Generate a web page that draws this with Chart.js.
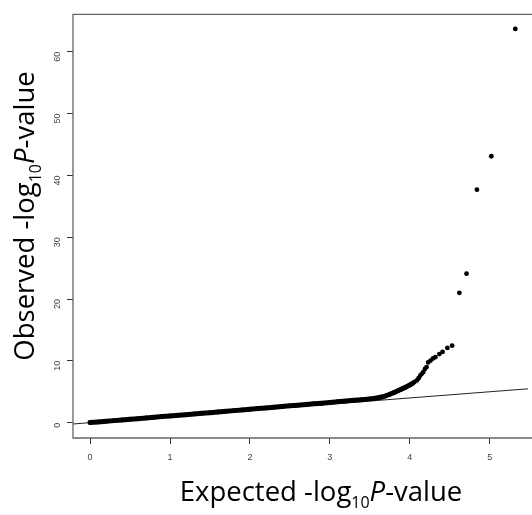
<!DOCTYPE html>
<html>
<head>
<meta charset="utf-8">
<script src="https://cdn.jsdelivr.net/npm/chart.js@4"></script>
<style>
  html, body { margin: 0; padding: 0; background: #fff; }
  #wrap { width: 532px; height: 515px; }
</style>
</head>
<body>
<div id="wrap"><canvas id="qq-chart" width="532" height="515"></canvas></div>
<script>
// bulk of the QQ points (expected vs observed)
var bulkExpected = [0, 0.1, 0.2, 0.3, 0.4, 0.5, 0.6, 0.7, 0.8, 0.9, 1.0, 1.1, 1.2, 1.3, 1.4, 1.5, 1.6, 1.7,
  1.8, 1.9, 2.0, 2.1, 2.2, 2.3, 2.4, 2.5, 2.6, 2.7, 2.8, 2.9, 3.0, 3.1, 3.2, 3.3, 3.4, 3.5,
  3.55, 3.6, 3.65, 3.7, 3.75, 3.8, 3.85, 3.9, 3.95, 4.0, 4.04];
var bulkObserved = [0.02, 0.12, 0.22, 0.33, 0.44, 0.55, 0.65, 0.76, 0.87, 0.98, 1.09, 1.19, 1.3, 1.41, 1.52, 1.62, 1.73, 1.84,
  1.95, 2.06, 2.18, 2.29, 2.39, 2.5, 2.61, 2.72, 2.83, 2.94, 3.05, 3.16, 3.28, 3.39, 3.5, 3.61, 3.72, 3.85,
  3.92, 4.02, 4.15, 4.35, 4.6, 4.85, 5.15, 5.45, 5.75, 6.1, 6.4];

// upper tail, single dots
var tailExpected = [4.06, 4.09, 4.11, 4.13, 4.15, 4.17, 4.19, 4.21, 4.23, 4.26, 4.29, 4.32, 4.37, 4.41, 4.47, 4.53,
  4.62, 4.71, 4.84, 5.02, 5.32];
var tailObserved = [6.6, 6.85, 7.2, 7.6, 7.9, 8.2, 8.7, 9.0, 9.75, 10.05, 10.4, 10.6, 11.1, 11.45, 12.1, 12.45,
  21.0, 24.1, 37.7, 43.1, 63.7];

// y = x reference line
var refX = [-1, 6];
var refY = [-1, 6];

var xTicks = [0, 1, 2, 3, 4, 5];
var yTicks = [0, 10, 20, 30, 40, 50, 60];

function toPoints(xs, ys) {
  return xs.map(function (x, i) { return { x: x, y: ys[i] }; });
}

// R-like box (left, top, bottom) plus the axis titles with sub/italic pieces
var framePlugin = {
  id: "frame",
  afterDraw: function (chart) {
    var ctx = chart.ctx;
    var a = chart.chartArea;
    ctx.save();
    ctx.strokeStyle = "#666";
    ctx.lineWidth = 1.3;
    ctx.beginPath();
    ctx.moveTo(chart.width, a.top);
    ctx.lineTo(a.left, a.top);
    ctx.lineTo(a.left, a.bottom);
    ctx.lineTo(chart.width, a.bottom);
    ctx.stroke();
    ctx.restore();

    drawTitle(ctx, "Expected -log", "10", "P", "-value", 321, 501, 0);
    drawTitle(ctx, "Observed -log", "10", "P", "-value", 34, 216, -Math.PI / 2);
  },
};

function drawTitle(ctx, pre, sub, ital, post, cx, cy, angle) {
  var big = '27.5px "Open Sans"';
  var small = '16px "Open Sans"';
  var italic = 'italic 27.5px "Open Sans"';
  ctx.save();
  ctx.font = big;
  var w1 = ctx.measureText(pre).width;
  var w4 = ctx.measureText(post).width;
  ctx.font = small;
  var w2 = ctx.measureText(sub).width;
  ctx.font = italic;
  var w3 = ctx.measureText(ital).width;
  var total = w1 + w2 + w3 + w4;
  ctx.translate(cx, cy);
  ctx.rotate(angle);
  ctx.fillStyle = "#000";
  ctx.textBaseline = "alphabetic";
  ctx.textAlign = "left";
  var x = -total / 2;
  ctx.font = big;
  ctx.fillText(pre, x, 0);
  x += w1;
  ctx.font = small;
  ctx.fillText(sub, x, 7);
  x += w2;
  ctx.font = italic;
  ctx.fillText(ital, x, 0);
  x += w3;
  ctx.font = big;
  ctx.fillText(post, x, 0);
  ctx.restore();
}

var tickFont = { family: "Liberation Sans", size: 9 };

var config = {
  type: "scatter",
  data: {
    datasets: [
      {
        label: "bulk",
        data: toPoints(bulkExpected, bulkObserved),
        showLine: true,
        borderColor: "#000",
        borderWidth: 5,
        borderCapStyle: "round",
        borderJoinStyle: "round",
        pointRadius: 2.4,
        pointBackgroundColor: "#000",
        pointBorderWidth: 0,
      },
      {
        label: "tail",
        data: toPoints(tailExpected, tailObserved),
        pointRadius: 2.4,
        pointBackgroundColor: "#000",
        pointBorderWidth: 0,
      },
      {
        label: "y=x",
        data: toPoints(refX, refY),
        showLine: true,
        borderColor: "#222",
        borderWidth: 1,
        pointRadius: 0,
      },
    ],
  },
  options: {
    responsive: false,
    animation: false,
    events: [],
    layout: { padding: { top: 12, left: 0, right: 0, bottom: 0 } },
    plugins: { legend: { display: false }, tooltip: { enabled: false } },
    scales: {
      x: {
        type: "linear",
        min: -0.214,
        max: 5.479,
        afterBuildTicks: function (scale) {
          scale.ticks = xTicks.map(function (v) { return { value: v }; });
        },
        afterFit: function (scale) { scale.height = 77; },
        grid: { drawOnChartArea: false, drawTicks: true, tickLength: 6, color: "#333" },
        border: { display: false },
        ticks: { font: tickFont, color: "#444", padding: 8, maxRotation: 0 },
      },
      y: {
        type: "linear",
        min: -2.48,
        max: 66.05,
        afterBuildTicks: function (scale) {
          scale.ticks = yTicks.map(function (v) { return { value: v }; });
        },
        afterFit: function (scale) { scale.width = 73; },
        grid: { drawOnChartArea: false, drawTicks: true, tickLength: 6, color: "#333" },
        border: { display: false },
        ticks: { font: tickFont, color: "#444", padding: 9, minRotation: 90, maxRotation: 90 },
      },
    },
  },
  plugins: [framePlugin],
};

const ctx = document.getElementById("qq-chart").getContext("2d");
const qqChart = new Chart(ctx, config);
</script>
</body>
</html>
